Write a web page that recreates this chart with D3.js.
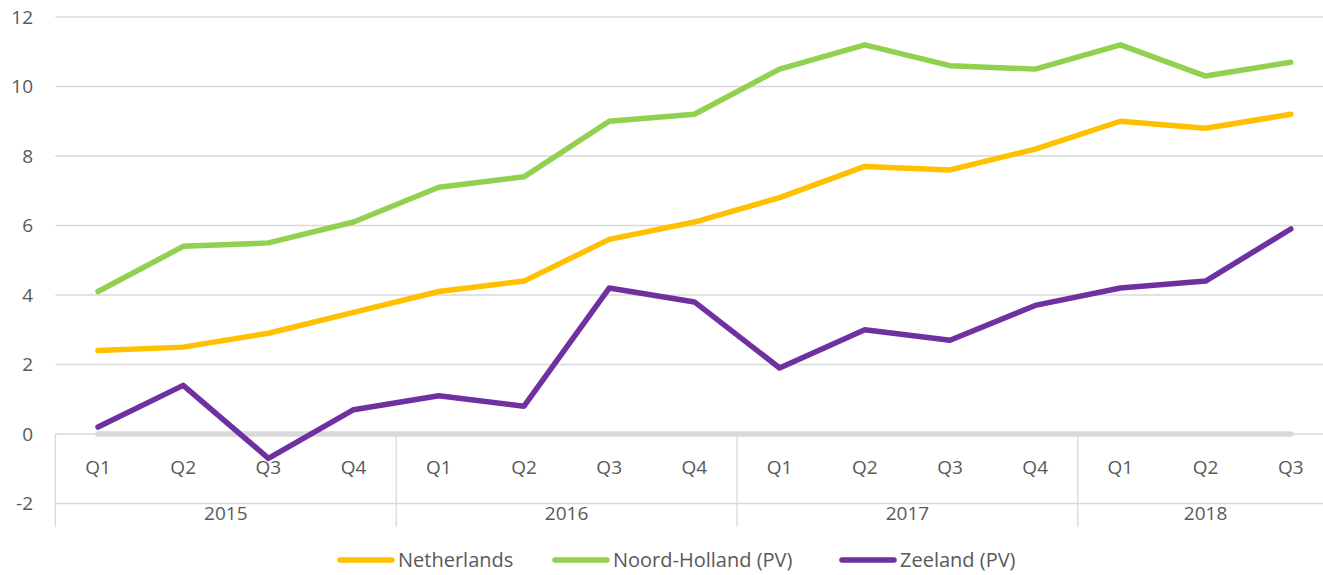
<!DOCTYPE html>
<html>
<head>
<meta charset="utf-8">
<script src="https://cdn.jsdelivr.net/npm/d3@7"></script>
<style>
  body { margin: 0; background: #fff; }
  text { font-family: "Open Sans", Lato, sans-serif; fill: #595959; }
</style>
</head>
<body>
<script>
var years = ['2015', '2016', '2017', '2018'];
var quarters = ['Q1','Q2','Q3','Q4','Q1','Q2','Q3','Q4','Q1','Q2','Q3','Q4','Q1','Q2','Q3'];
var yearOfPoint = [0,0,0,0,1,1,1,1,2,2,2,2,3,3,3];
var netherlands = [2.4, 2.5, 2.9, 3.5, 4.1, 4.4, 5.6, 6.1, 6.8, 7.7, 7.6, 8.2, 9.0, 8.8, 9.2];
var noordHolland = [4.1, 5.4, 5.5, 6.1, 7.1, 7.4, 9.0, 9.2, 10.5, 11.2, 10.6, 10.5, 11.2, 10.3, 10.7];
var zeeland = [0.2, 1.4, -0.7, 0.7, 1.1, 0.8, 4.2, 3.8, 1.9, 3.0, 2.7, 3.7, 4.2, 4.4, 5.9];
var baseline = [0,0,0,0,0,0,0,0,0,0,0,0,0,0,0];
var yTicks = [-2, 0, 2, 4, 6, 8, 10, 12];

var series = [
	{name: 'Netherlands', values: netherlands, color: '#FFC000'},
	{name: 'Noord-Holland (PV)', values: noordHolland, color: '#92D050'},
	{name: 'Zeeland (PV)', values: zeeland, color: '#7030A0'}
];

var width = 1323, height = 575;
var svg = d3.select('body').append('svg').attr('width', width).attr('height', height);

var x = d3.scaleBand().domain(d3.range(quarters.length)).range([55.4, 1333.4]);
var y = d3.scaleLinear().domain([-2, 12]).range([503.5, 17]);
var cx = i => x(i) + x.bandwidth() / 2;

// gridlines
svg.selectAll('line.grid')
	.data(yTicks)
	.enter().append('line')
		.attr('class', 'grid')
		.attr('x1', 55.4)
		.attr('x2', width)
		.attr('y1', d => y(d))
		.attr('y2', d => y(d))
		.attr('stroke', '#d9d9d9')
		.attr('stroke-width', 1.3);

// y labels
svg.selectAll('text.ytick')
	.data(yTicks)
	.enter().append('text')
		.attr('class', 'ytick')
		.attr('x', 33)
		.attr('y', d => y(d) + 1.5)
		.attr('text-anchor', 'end')
		.attr('dominant-baseline', 'middle')
		.attr('font-size', 19)
		.text(d => d);

// category separators: left edge + year boundaries
var seps = [0, 4, 8, 12];
svg.selectAll('line.sep')
	.data(seps)
	.enter().append('line')
		.attr('class', 'sep')
		.attr('x1', d => x(d))
		.attr('x2', d => x(d))
		.attr('y1', y(0))
		.attr('y2', 527)
		.attr('stroke', '#d9d9d9')
		.attr('stroke-width', 1.3);

// quarter labels
svg.selectAll('text.q')
	.data(quarters)
	.enter().append('text')
		.attr('class', 'q')
		.attr('x', (d, i) => cx(i))
		.attr('y', 468.5)
		.attr('text-anchor', 'middle')
		.attr('dominant-baseline', 'middle')
		.attr('font-size', 19)
		.text(d => d);

// year labels
svg.selectAll('text.yr')
	.data(years)
	.enter().append('text')
		.attr('class', 'yr')
		.attr('x', (d, j) => {
			var idx = d3.range(quarters.length).filter(i => yearOfPoint[i] === j);
			return (x(idx[0]) + x(idx[idx.length - 1]) + x.bandwidth()) / 2;
		})
		.attr('y', 514.5)
		.attr('text-anchor', 'middle')
		.attr('dominant-baseline', 'middle')
		.attr('font-size', 19)
		.text(d => d);

var line = d3.line().x((d, i) => cx(i)).y(d => y(d));

// zero series (grey)
svg.append('path')
	.attr('d', line(baseline))
	.attr('fill', 'none')
	.attr('stroke', '#d9d9d9')
	.attr('stroke-width', 5.5)
	.attr('stroke-linecap', 'round');

svg.selectAll('path.series')
	.data(series)
	.enter().append('path')
		.attr('class', 'series')
		.attr('d', d => line(d.values))
		.attr('fill', 'none')
		.attr('stroke', d => d.color)
		.attr('stroke-width', 5.5)
		.attr('stroke-linejoin', 'round')
		.attr('stroke-linecap', 'round');

// legend
var legendX = [340, 555, 842];
var leg = svg.selectAll('g.legend')
	.data(series)
	.enter().append('g')
		.attr('class', 'legend')
		.attr('transform', (d, i) => 'translate(' + legendX[i] + ',560)');
leg.append('line')
	.attr('x1', 0).attr('x2', 52)
	.attr('y1', 0).attr('y2', 0)
	.attr('stroke', d => d.color)
	.attr('stroke-width', 5.5)
	.attr('stroke-linecap', 'round');
leg.append('text')
	.attr('x', 58)
	.attr('y', 2)
	.attr('dominant-baseline', 'middle')
	.attr('font-size', 20)
	.text(d => d.name);
</script>
</body>
</html>
